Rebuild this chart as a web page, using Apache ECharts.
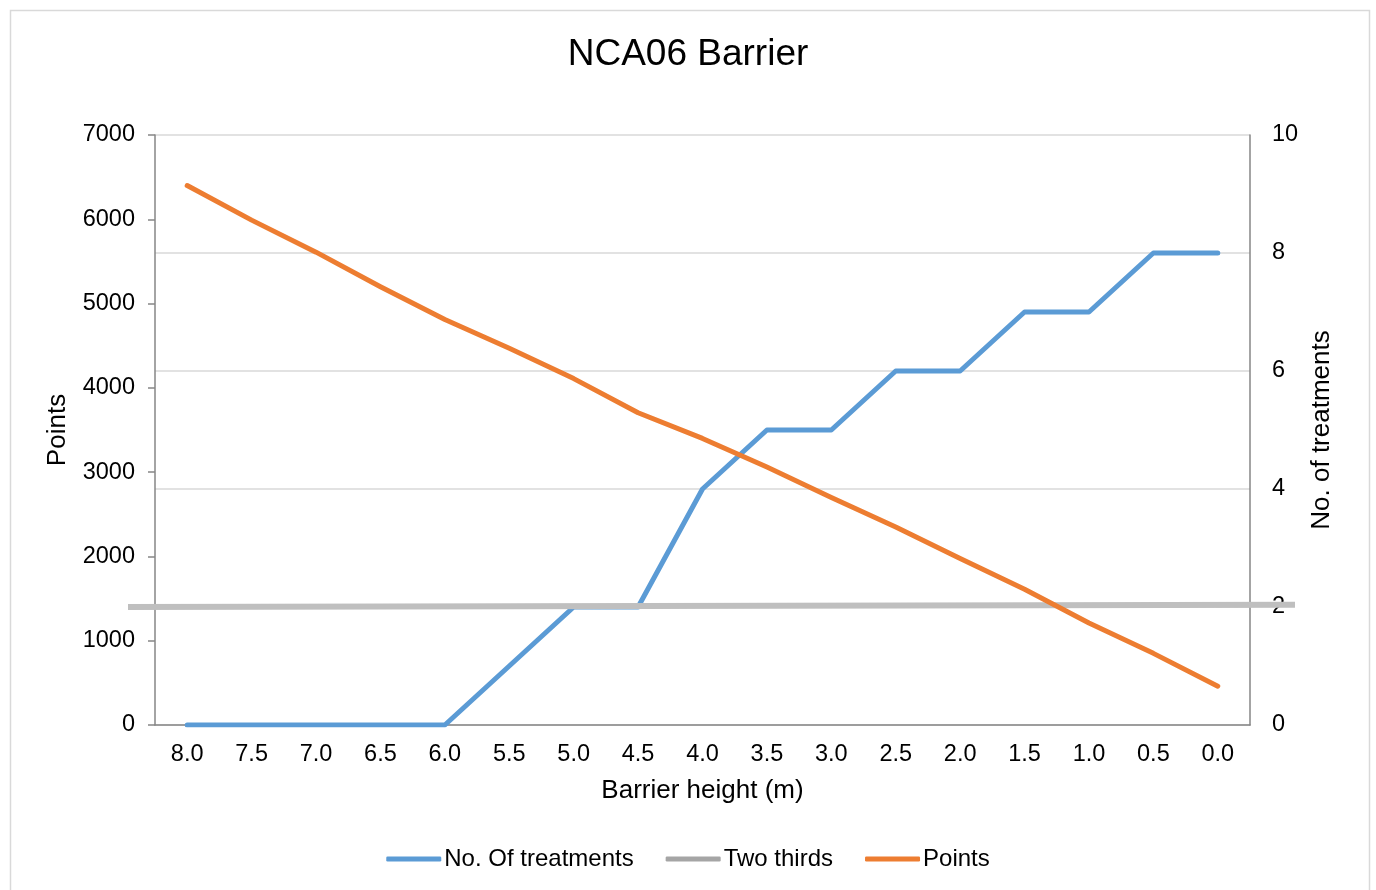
<!DOCTYPE html>
<html>
<head>
<meta charset="utf-8">
<script src="https://cdn.jsdelivr.net/npm/echarts@6/dist/echarts.min.js"></script>
<style>
  html, body { margin: 0; padding: 0; background: #ffffff; }
  #chart { width: 1376px; height: 890px; }
</style>
</head>
<body>
<div id="chart"></div>
<script>
// Barrier heights (m), tallest first
const heights = ['8.0', '7.5', '7.0', '6.5', '6.0', '5.5', '5.0', '4.5', '4.0',
                 '3.5', '3.0', '2.5', '2.0', '1.5', '1.0', '0.5', '0.0'];
// Number of treatments at each height (right axis)
const treatments = [0, 0, 0, 0, 0, 1, 2, 2, 4, 5, 5, 6, 6, 7, 7, 8, 8];
// Points at each height (left axis)
const points = [6400, 5990, 5610, 5200, 4810, 4470, 4110, 3705, 3400,
                3060, 2700, 2350, 1975, 1610, 1210, 850, 460];
// Two-thirds threshold line: [start/end along its own span, treatments]
const twoThirds = [[0, 2.0], [1, 2.04]];

const FONT = '"Liberation Sans", Arial, sans-serif';
const AXIS_GREY = '#868686';
const chart = echarts.init(document.getElementById('chart'), null, { renderer: 'canvas' });

chart.setOption({
  backgroundColor: '#ffffff',
  animation: false,
  textStyle: { fontFamily: FONT, color: '#000' },
  graphic: [{
    type: 'rect',
    shape: { x: 10.5, y: 10.5, width: 1359, height: 900 },
    style: { fill: 'none', stroke: '#d9d9d9', lineWidth: 1.5 },
    silent: true, z: -1
  }],
  title: {
    text: 'NCA06 Barrier',
    left: 'center', top: 31,
    textStyle: { fontFamily: FONT, fontSize: 37, fontWeight: 'normal', color: '#000' }
  },
  legend: {
    bottom: 14, left: 'center',
    icon: 'roundRect',
    itemWidth: 55, itemHeight: 5, itemGap: 32,
    textStyle: { fontFamily: FONT, fontSize: 24, color: '#000', padding: [0, 0, 0, -2] },
    data: [
      { name: 'No. Of treatments', itemStyle: { color: '#5b9bd5' } },
      { name: 'Two thirds', itemStyle: { color: '#a5a5a5' } },
      { name: 'Points', itemStyle: { color: '#ed7d31' } }
    ]
  },
  grid: [
    { left: 155, right: 126, top: 135, bottom: 165, containLabel: false },
    // the threshold line runs past both vertical axes
    { left: 128, right: 81, top: 135, bottom: 165, containLabel: false }
  ],
  xAxis: [{
    type: 'category',
    gridIndex: 0,
    data: heights,
    boundaryGap: true,
    name: 'Barrier height (m)',
    nameLocation: 'middle', nameGap: 53,
    nameTextStyle: { fontFamily: FONT, fontSize: 26, color: '#000' },
    axisLine: { lineStyle: { color: AXIS_GREY, width: 1.5 } },
    axisTick: { show: false },
    axisLabel: { fontFamily: FONT, fontSize: 23.5, color: '#000', margin: 18, interval: 0 },
    splitLine: { show: false }
  }, {
    type: 'value',
    gridIndex: 1,
    min: 0, max: 1,
    show: false
  }],
  yAxis: [{
    type: 'value',
    gridIndex: 0,
    min: 0, max: 7000, interval: 1000,
    name: 'Points',
    nameLocation: 'middle', nameGap: 84, nameRotate: 90,
    nameTextStyle: { fontFamily: FONT, fontSize: 26, color: '#000' },
    axisLine: { show: true, onZero: false, lineStyle: { color: AXIS_GREY, width: 1.5 } },
    axisTick: { show: true, length: 7, lineStyle: { color: AXIS_GREY, width: 1.5 } },
    axisLabel: { fontFamily: FONT, fontSize: 23.5, color: '#000', margin: 20,
                 formatter: v => String(v) },
    splitLine: { show: false }
  }, {
    type: 'value',
    gridIndex: 0,
    position: 'right',
    min: 0, max: 10, interval: 2,
    name: 'No. of treatments',
    nameLocation: 'middle', nameGap: 58, nameRotate: 90,
    nameTextStyle: { fontFamily: FONT, fontSize: 26, color: '#000' },
    axisLine: { show: true, onZero: false, lineStyle: { color: AXIS_GREY, width: 1.5 } },
    axisTick: { show: false },
    axisLabel: { fontFamily: FONT, fontSize: 23.5, color: '#000', margin: 22 },
    splitLine: { show: true, lineStyle: { color: '#d9d9d9', width: 1.5 } }
  }, {
    type: 'value',
    gridIndex: 1,
    min: 0, max: 10,
    show: false
  }],
  series: [{
    name: 'No. Of treatments',
    type: 'line',
    xAxisIndex: 0, yAxisIndex: 1,
    data: treatments,
    symbol: 'none',
    lineStyle: { color: '#5b9bd5', width: 5, cap: 'round', join: 'round' },
    itemStyle: { color: '#5b9bd5' },
    z: 3
  }, {
    name: 'Two thirds',
    type: 'line',
    xAxisIndex: 1, yAxisIndex: 2,
    data: twoThirds,
    symbol: 'none',
    clip: false,
    lineStyle: { color: '#bfbfbf', width: 6 },
    itemStyle: { color: '#a5a5a5' },
    z: 4
  }, {
    name: 'Points',
    type: 'line',
    xAxisIndex: 0, yAxisIndex: 0,
    data: points,
    symbol: 'none',
    lineStyle: { color: '#ed7d31', width: 5, cap: 'round', join: 'round' },
    itemStyle: { color: '#ed7d31' },
    z: 5
  }]
});
</script>
</body>
</html>
